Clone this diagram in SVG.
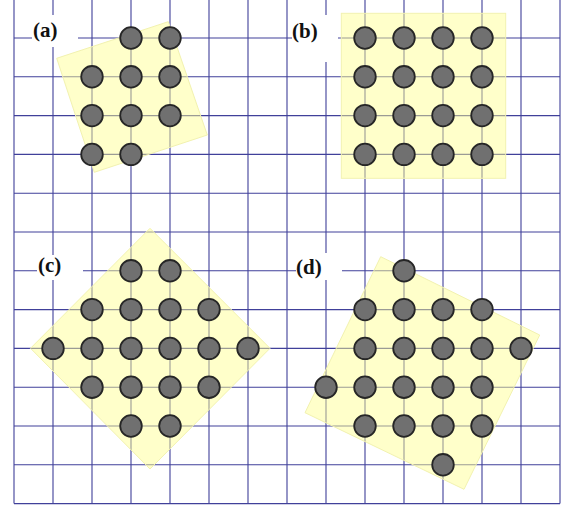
<svg xmlns="http://www.w3.org/2000/svg" width="568" height="506" viewBox="0 0 568 506">
<style>
.grid{stroke:#40409a;stroke-width:1.1;fill:none}
.bg{fill:#ffffff}
.pad{fill:#ffff90;fill-opacity:0.48;stroke:#f2f2b0;stroke-width:1}
.dot{fill:#707070;stroke:#262626;stroke-width:1.8}
.lbl{font-family:"Liberation Serif","Times New Roman",serif;font-weight:bold;font-size:21px;fill:#111}
</style>
<defs>
<circle id="d" r="10.8" class="dot"/>
</defs>
<rect width="568" height="506" fill="#ffffff"/>
<g id="grid" class="grid">
<path d="M14,0V503.6M53,0V503.6M92,0V503.6M131,0V503.6M170,0V503.6M209,0V503.6M248,0V503.6M287,0V503.6M326,0V503.6M365,0V503.6M404,0V503.6M443,0V503.6M482,0V503.6M521,0V503.6M560,0V503.6"/>
<path d="M14,38H560M14,76.8H560M14,115.6H560M14,154.4H560M14,193.2H560M14,232H560M14,270.8H560M14,309.6H560M14,348.4H560M14,387.2H560M14,426H560M14,464.8H560M14,503.6H560"/>
</g>
<g id="label-backgrounds">
<rect class="bg" x="32" y="15" width="46" height="32"/>
<rect class="bg" x="292" y="15" width="46" height="47"/>
<rect class="bg" x="37" y="255" width="46" height="25"/>
<rect class="bg" x="296" y="253" width="46" height="27"/>
</g>
<g id="panel-a">
<polygon class="pad" points="56.7,58.3 168.3,21.7 207.3,135 94.3,172.3"/>
<use href="#d" x="131" y="38"/><use href="#d" x="170" y="38"/>
<use href="#d" x="92" y="76.8"/><use href="#d" x="131" y="76.8"/><use href="#d" x="170" y="76.8"/>
<use href="#d" x="92" y="115.6"/><use href="#d" x="131" y="115.6"/><use href="#d" x="170" y="115.6"/>
<use href="#d" x="92" y="154.4"/><use href="#d" x="131" y="154.4"/>
<text class="lbl" x="33" y="37">(a)</text>
</g>
<g id="panel-b">
<rect class="pad" x="341.3" y="13.3" width="164.4" height="165"/>
<use href="#d" x="365" y="38"/><use href="#d" x="404" y="38"/><use href="#d" x="443" y="38"/><use href="#d" x="482" y="38"/>
<use href="#d" x="365" y="76.8"/><use href="#d" x="404" y="76.8"/><use href="#d" x="443" y="76.8"/><use href="#d" x="482" y="76.8"/>
<use href="#d" x="365" y="115.6"/><use href="#d" x="404" y="115.6"/><use href="#d" x="443" y="115.6"/><use href="#d" x="482" y="115.6"/>
<use href="#d" x="365" y="154.4"/><use href="#d" x="404" y="154.4"/><use href="#d" x="443" y="154.4"/><use href="#d" x="482" y="154.4"/>
<text class="lbl" x="292" y="38">(b)</text>
</g>
<g id="panel-c">
<polygon class="pad" points="150,228.3 270,348.3 150,469 30.5,348.3"/>
<use href="#d" x="131" y="270.8"/><use href="#d" x="170" y="270.8"/>
<use href="#d" x="92" y="309.6"/><use href="#d" x="131" y="309.6"/><use href="#d" x="170" y="309.6"/><use href="#d" x="209" y="309.6"/>
<use href="#d" x="53" y="348.4"/><use href="#d" x="92" y="348.4"/><use href="#d" x="131" y="348.4"/><use href="#d" x="170" y="348.4"/><use href="#d" x="209" y="348.4"/><use href="#d" x="248" y="348.4"/>
<use href="#d" x="92" y="387.2"/><use href="#d" x="131" y="387.2"/><use href="#d" x="170" y="387.2"/><use href="#d" x="209" y="387.2"/>
<use href="#d" x="131" y="426"/><use href="#d" x="170" y="426"/>
<text class="lbl" x="38" y="272">(c)</text>
</g>
<g id="panel-d">
<polygon class="pad" points="380.7,256.7 539.7,335 464,489.3 305,412.7"/>
<use href="#d" x="404" y="270.8"/>
<use href="#d" x="365" y="309.6"/><use href="#d" x="404" y="309.6"/><use href="#d" x="443" y="309.6"/><use href="#d" x="482" y="309.6"/>
<use href="#d" x="365" y="348.4"/><use href="#d" x="404" y="348.4"/><use href="#d" x="443" y="348.4"/><use href="#d" x="482" y="348.4"/><use href="#d" x="521" y="348.4"/>
<use href="#d" x="326" y="387.2"/><use href="#d" x="365" y="387.2"/><use href="#d" x="404" y="387.2"/><use href="#d" x="443" y="387.2"/><use href="#d" x="482" y="387.2"/>
<use href="#d" x="365" y="426"/><use href="#d" x="404" y="426"/><use href="#d" x="443" y="426"/><use href="#d" x="482" y="426"/>
<use href="#d" x="443" y="464.8"/>
<text class="lbl" x="296" y="274">(d)</text>
</g>
</svg>
